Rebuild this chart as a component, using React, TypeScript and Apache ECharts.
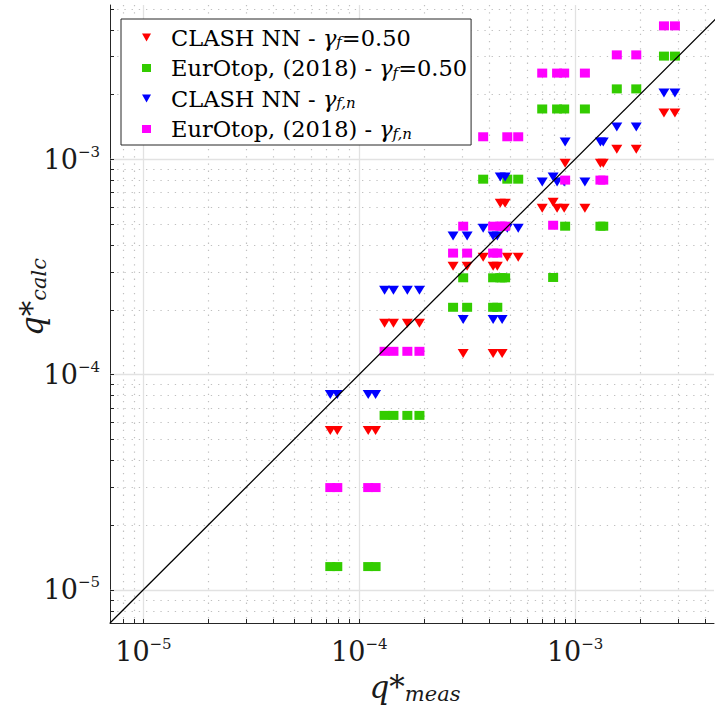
import React, { useEffect, useRef } from 'react';
import * as echarts from 'echarts';

// Measured mean overtopping discharge (shared by all four series), grouped by test set
const qMeas = [
  7.34e-5, 7.91e-5, 1.10e-4, 1.19e-4,
  1.31e-4, 1.44e-4, 1.67e-4, 1.90e-4,
  3.03e-4, 4.17e-4, 4.59e-4,
  2.72e-4, 3.16e-4, 4.17e-4, 4.36e-4,
  3.75e-4, 4.85e-4, 5.45e-4,
  4.50e-4, 4.74e-4,
  7.04e-4, 8.25e-4, 8.90e-4, 1.11e-3,
  7.91e-4,
  8.99e-4, 1.31e-3, 1.35e-3,
  1.56e-3, 1.92e-3,
  2.58e-3, 2.90e-3,
];

// Calculated discharge per method
const clashGf050 = [
  5.49e-5, 5.49e-5, 5.49e-5, 5.49e-5,
  1.73e-4, 1.73e-4, 1.73e-4, 1.73e-4,
  1.25e-4, 1.25e-4, 1.25e-4,
  3.18e-4, 3.18e-4, 3.18e-4, 3.18e-4,
  3.50e-4, 3.50e-4, 3.50e-4,
  6.24e-4, 6.24e-4,
  5.92e-4, 5.92e-4, 5.92e-4, 5.92e-4,
  6.31e-4,
  9.58e-4, 9.58e-4, 9.58e-4,
  1.11e-3, 1.11e-3,
  1.64e-3, 1.64e-3,
];

const eurotopGf050 = [
  1.28e-5, 1.28e-5, 1.28e-5, 1.28e-5,
  6.45e-5, 6.45e-5, 6.45e-5, 6.45e-5,
  2.81e-4, 2.81e-4, 2.81e-4,
  2.05e-4, 2.05e-4, 2.05e-4, 2.05e-4,
  8.07e-4, 8.07e-4, 8.07e-4,
  2.81e-4, 2.81e-4,
  1.71e-3, 1.71e-3, 1.71e-3, 1.71e-3,
  2.82e-4,
  4.88e-4, 4.88e-4, 4.88e-4,
  2.12e-3, 2.12e-3,
  3.01e-3, 3.01e-3,
];

const clashGfn = [
  8.07e-5, 8.07e-5, 8.07e-5, 8.07e-5,
  2.46e-4, 2.46e-4, 2.46e-4, 2.46e-4,
  1.80e-4, 1.80e-4, 1.80e-4,
  4.39e-4, 4.39e-4, 4.39e-4, 4.39e-4,
  4.78e-4, 4.78e-4, 4.78e-4,
  8.25e-4, 8.25e-4,
  7.82e-4, 7.82e-4, 7.82e-4, 7.82e-4,
  8.25e-4,
  1.20e-3, 1.20e-3, 1.20e-3,
  1.41e-3, 1.41e-3,
  2.03e-3, 2.03e-3,
];

const eurotopGfn = [
  2.98e-5, 2.98e-5, 2.98e-5, 2.98e-5,
  1.28e-4, 1.28e-4, 1.28e-4, 1.28e-4,
  4.88e-4, 4.88e-4, 4.88e-4,
  3.66e-4, 3.66e-4, 3.66e-4, 3.66e-4,
  1.27e-3, 1.27e-3, 1.27e-3,
  4.88e-4, 4.88e-4,
  2.51e-3, 2.51e-3, 2.51e-3, 2.51e-3,
  4.93e-4,
  7.99e-4, 7.99e-4, 7.99e-4,
  3.05e-3, 3.05e-3,
  4.16e-3, 4.16e-3,
];

const seriesNames = [
  'CLASH NN - γf=0.50',
  'EurOtop, (2018) - γf=0.50',
  'CLASH NN - γf,n',
  'EurOtop, (2018) - γf,n',
];
const legendRich: Record<string, string> = {
  'CLASH NN - γf=0.50': '{t0|CLASH NN - }{g|γ}{s|f}{t|=0.50}',
  'EurOtop, (2018) - γf=0.50': '{t0|EurOtop, (2018) - }{g|γ}{s|f}{t|=0.50}',
  'CLASH NN - γf,n': '{t0|CLASH NN - }{g|γ}{s|f,n}',
  'EurOtop, (2018) - γf,n': '{t0|EurOtop, (2018) - }{g|γ}{s|f,n}',
};

const xRange = [7e-6, 4.4e-3];
const yRange = [7e-6, 5.2e-3];
const diagonal = [7e-6, 5.2e-3];

const xMajorTicks = [1e-5, 1e-4, 1e-3];
const xMinorTicks = [
  8e-6, 9e-6,
  2e-5, 3e-5, 4e-5, 5e-5, 6e-5, 7e-5, 8e-5, 9e-5,
  2e-4, 3e-4, 4e-4, 5e-4, 6e-4, 7e-4, 8e-4, 9e-4,
  2e-3, 3e-3, 4e-3,
];
const yMajorTicks = [1e-5, 1e-4, 1e-3];
const yMinorTicks = [
  8e-6, 9e-6,
  2e-5, 3e-5, 4e-5, 5e-5, 6e-5, 7e-5, 8e-5, 9e-5,
  2e-4, 3e-4, 4e-4, 5e-4, 6e-4, 7e-4, 8e-4, 9e-4,
  2e-3, 3e-3, 4e-3, 5e-3,
];

const FONT = 'DejaVu Serif';
const TRI_DOWN = 'path://M0,0L10,0L5,8.66Z';

export default function App() {
  const ref = useRef<HTMLDivElement>(null);

  useEffect(() => {
    if (!ref.current) return;
    const chart = echarts.init(ref.current, undefined, { renderer: 'svg' });

    const anchor = 1e-4;
    const gridData: number[][] = [];
    xMajorTicks.forEach((v) => gridData.push([v, anchor, 0, 1]));
    xMinorTicks.forEach((v) => gridData.push([v, anchor, 0, 0]));
    yMajorTicks.forEach((v) => gridData.push([anchor, v, 1, 1]));
    yMinorTicks.forEach((v) => gridData.push([anchor, v, 1, 0]));

    const majorStyle = { stroke: '#e2e2e2', lineWidth: 1.3 };
    const minorStyle = { stroke: '#c0c0c0', lineWidth: 1.2, lineDash: [1.3, 5.9] };
    const tickStyle = { stroke: '#262626', lineWidth: 1 };
    const TICK = 4;

    const fmt = (v: number) => {
      const e = Math.log10(v);
      const r = Math.round(e);
      if (Math.abs(e - r) > 1e-6) return '';
      return '{b|10}{p|' + (r < 0 ? '−' : '') + Math.abs(r) + '}';
    };
    const labelRich = {
      b: { fontFamily: FONT, fontSize: 27, lineHeight: 30, color: '#1a1a1a' },
      p: { fontFamily: FONT, fontSize: 15, lineHeight: 15, verticalAlign: 'top', color: '#1a1a1a' },
    };

    const scatterBase = (name: string, ys: number[], symbol: string, color: string) => ({
      name,
      type: 'scatter',
      data: qMeas.map((x, i) => [x, ys[i]]),
      symbol,
      symbolRotate: symbol === 'triangle' ? 180 : 0,
      symbolSize: symbol === 'triangle' ? [11, 9] : [10, 9],
      itemStyle: { color, opacity: 1 },
      silent: true,
      z: 3,
    });

    const legendTextRich = {
      t0: { fontFamily: FONT, fontSize: 22.5, lineHeight: 24, color: '#000', padding: [0, 0, 0, 15] },
      t: { fontFamily: FONT, fontSize: 22.5, lineHeight: 24, color: '#000' },
      g: { fontFamily: FONT, fontSize: 22.5, lineHeight: 24, fontStyle: 'italic', color: '#000' },
      s: { fontFamily: FONT, fontSize: 15, lineHeight: 14, fontStyle: 'italic', verticalAlign: 'bottom', color: '#000' },
    };

    const nameRich = {
      q: { fontFamily: FONT, fontSize: 31, fontStyle: 'italic', fill: '#1a1a1a', lineHeight: 34 },
      a: { fontFamily: FONT, fontSize: 31, fill: '#1a1a1a', lineHeight: 34 },
      s: { fontFamily: FONT, fontSize: 21, fontStyle: 'italic', fill: '#1a1a1a', lineHeight: 20, verticalAlign: 'bottom' },
    };

    chart.setOption({
      animation: false,
      backgroundColor: '#ffffff',
      grid: { left: 110, right: 1, top: 5, bottom: 85, containLabel: false },
      xAxis: {
        type: 'log',
        logBase: 10,
        min: xRange[0],
        max: xRange[1],
        axisLine: { show: true, onZero: false, lineStyle: { color: '#262626', width: 1 } },
        axisTick: { show: false },
        splitLine: { show: false },
        minorTick: { show: false },
        minorSplitLine: { show: false },
        axisLabel: { formatter: fmt, rich: labelRich, margin: 13, showMinLabel: false, showMaxLabel: false },
      },
      yAxis: {
        type: 'log',
        logBase: 10,
        min: yRange[0],
        max: yRange[1],
        axisLine: { show: true, onZero: false, lineStyle: { color: '#262626', width: 1 } },
        axisTick: { show: false },
        splitLine: { show: false },
        minorTick: { show: false },
        minorSplitLine: { show: false },
        axisLabel: { formatter: fmt, rich: labelRich, margin: 10, showMinLabel: false, showMaxLabel: false },
      },
      legend: {
        data: [
          { name: seriesNames[0], icon: TRI_DOWN },
          { name: seriesNames[1], icon: 'rect' },
          { name: seriesNames[2], icon: TRI_DOWN },
          { name: seriesNames[3], icon: 'rect' },
        ],
        orient: 'vertical',
        left: 121,
        top: 19,
        padding: [7, 4, 4, 21],
        itemGap: 7,
        itemWidth: 9,
        itemHeight: 8,
        selectedMode: false,
        backgroundColor: '#ffffff',
        borderColor: '#262626',
        borderWidth: 1,
        formatter: (name: string) => legendRich[name] || name,
        textStyle: { fontFamily: FONT, fontSize: 22.5, color: '#000', rich: legendTextRich },
      },
      graphic: [
        {
          type: 'text',
          x: 415,
          y: 687,
          style: {
            text: '{q|q}{a|*}{s|meas}',
            rich: nameRich,
            textAlign: 'center',
            textVerticalAlign: 'middle',
            align: 'center',
            verticalAlign: 'middle',
          },
        },
        {
          type: 'text',
          x: 32,
          y: 297,
          rotation: Math.PI / 2,
          style: {
            text: '{q|q}{a|*}{s|calc}',
            rich: nameRich,
            textAlign: 'center',
            textVerticalAlign: 'middle',
            align: 'center',
            verticalAlign: 'middle',
          },
        },
      ],
      series: [
        {
          type: 'custom',
          silent: true,
          z: 1,
          data: gridData,
          renderItem: (params: any, api: any) => {
            const cs = params.coordSys;
            const kind = api.value(2);
            const major = api.value(3) === 1;
            const p = api.coord([api.value(0), api.value(1)]);
            const st = major ? majorStyle : minorStyle;
            if (kind === 0) {
              const x = Math.round(p[0]) + 0.5;
              const yb = cs.y + cs.height;
              return {
                type: 'group',
                children: [
                  { type: 'line', shape: { x1: x, y1: cs.y, x2: x, y2: yb }, style: st },
                  { type: 'line', shape: { x1: x, y1: yb, x2: x, y2: yb - TICK }, style: tickStyle },
                ],
              };
            }
            const y = Math.round(p[1]) + 0.5;
            return {
              type: 'group',
              children: [
                { type: 'line', shape: { x1: cs.x, y1: y, x2: cs.x + cs.width, y2: y }, style: st },
                { type: 'line', shape: { x1: cs.x, y1: y, x2: cs.x + TICK, y2: y }, style: tickStyle },
              ],
            };
          },
        },
        scatterBase(seriesNames[0], clashGf050, 'triangle', '#ff0000'),
        scatterBase(seriesNames[1], eurotopGf050, 'rect', '#33cc00'),
        scatterBase(seriesNames[2], clashGfn, 'triangle', '#0000ff'),
        scatterBase(seriesNames[3], eurotopGfn, 'rect', '#ff00ff'),
        {
          type: 'line',
          data: diagonal.map((v) => [v, v]),
          symbol: 'none',
          silent: true,
          z: 4,
          lineStyle: { color: '#000000', width: 1.3 },
        },
      ],
    });

    return () => chart.dispose();
  }, []);

  return (
    <div
      ref={ref}
      style={{ position: 'fixed', left: 0, top: 0, width: 715, height: 708, background: '#fff' }}
    />
  );
}
